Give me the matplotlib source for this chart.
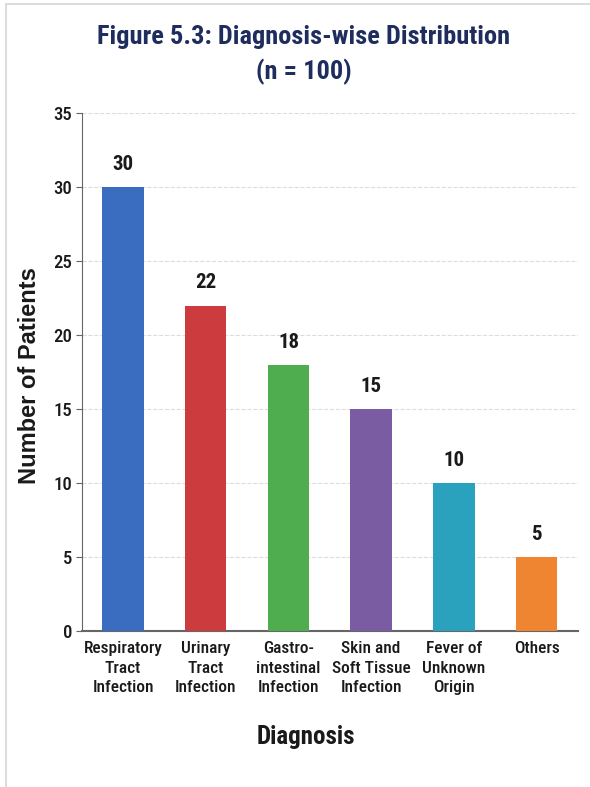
import matplotlib.pyplot as plt
from matplotlib.patches import Rectangle

# Data
diagnoses = ["Respiratory\nTract\nInfection", "Urinary\nTract\nInfection",
             "Gastro-\nintestinal\nInfection", "Skin and\nSoft Tissue\nInfection",
             "Fever of\nUnknown\nOrigin", "Others"]
patients = [30, 22, 18, 15, 10, 5]
bar_colors = ["#3a6cc0", "#cc3c3e", "#4fac4f", "#7a5ca3", "#2aa2bd", "#ef8530"]

cond = ["Roboto Condensed", "DejaVu Sans"]
dark = "#1a1a1a"

fig = plt.figure(figsize=(5.9, 7.87), dpi=100)
ax = fig.add_axes([0.1385, 0.198, 0.841, 0.658])

# light frame around the figure
fig.patches.append(Rectangle((0.010, -0.01), 1.0, 1.005, transform=fig.transFigure,
                             fill=False, edgecolor="#d6d6d6", lw=1.2))

x = range(len(diagnoses))
bars = ax.bar(x, patients, width=0.5, color=bar_colors, zorder=3)

for b, v in zip(bars, patients):
    ax.text(b.get_x() + b.get_width() / 2, v + 0.9, str(v), ha="center", va="bottom",
            fontsize=15, fontweight="bold", family=cond, color=dark)

ax.set_ylim(0, 35)
ax.set_xlim(-0.5, 5.5)
ax.set_yticks(range(0, 36, 5))
ax.set_xticks(list(x))
ax.set_xticklabels(diagnoses, fontsize=12.5, family=cond, fontweight="medium", color=dark,
                   linespacing=1.4)
for lab in ax.get_yticklabels():
    lab.set_fontsize(13.5)
    lab.set_family(cond)
    lab.set_fontweight("medium")
    lab.set_color(dark)

ax.grid(axis="y", linestyle="--", color="#dcdcdc", lw=0.8, zorder=0)
ax.spines["top"].set_visible(False)
ax.spines["right"].set_visible(False)
ax.spines["left"].set_color("#666666")
ax.spines["bottom"].set_color("#666666")
ax.spines["bottom"].set_linewidth(1.5)
ax.tick_params(axis="y", length=4, color="#666666", pad=3)
ax.tick_params(axis="x", length=0, pad=7)

ax.set_ylabel("Number of Patients", fontsize=17, fontweight="bold", color=dark,
              family=["Liberation Sans", "DejaVu Sans"])
ax.yaxis.set_label_coords(-0.082, 0.494)
ax.set_xlabel("Diagnosis", fontsize=18, fontweight="bold", family=cond, color=dark, va="center")
ax.xaxis.set_label_coords(0.452, -0.205)

fig.text(0.515, 0.968, "Figure 5.3: Diagnosis-wise Distribution\n(n = 100)", ha="center", va="top",
         fontsize=19, fontweight="bold", family=cond, color="#1f2d5e", linespacing=1.45)

fig.savefig("out.png", dpi=100, facecolor="white")
